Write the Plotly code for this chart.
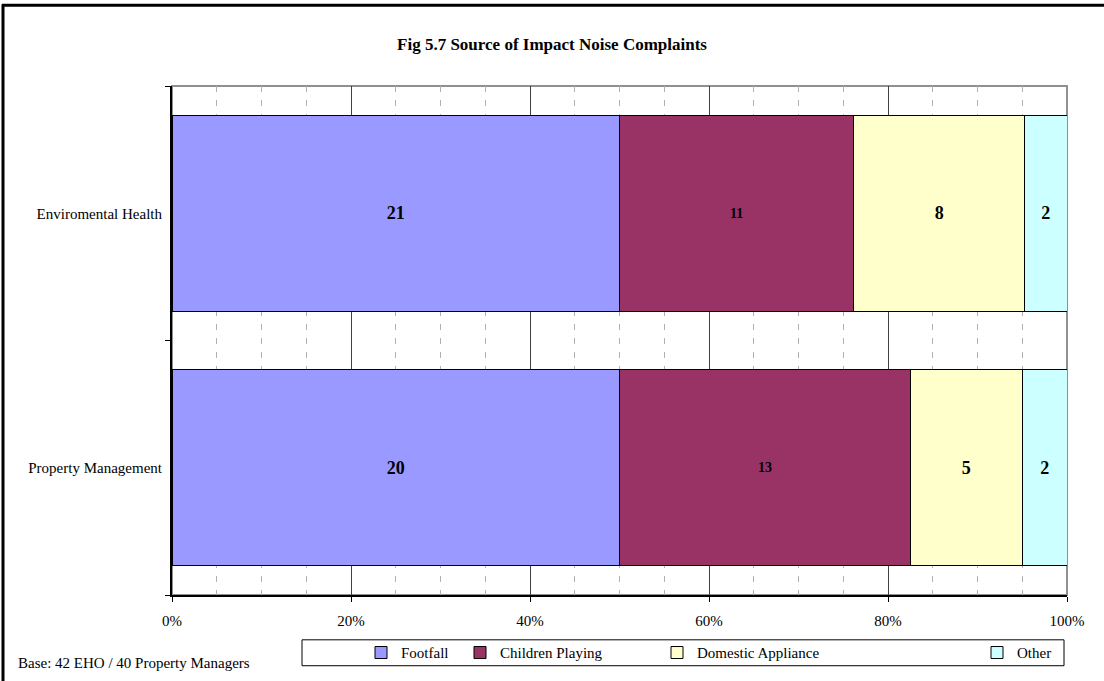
import plotly.graph_objects as go

# Survey groups (bottom to top) and complaint counts per noise source
groups = ["Property Management", "Enviromental Health"]
footfall = [20, 21]
children_playing = [13, 11]
domestic_appliance = [5, 8]
other = [2, 2]

series = [
    ("Footfall", footfall, "#9999FF", 18),
    ("Children Playing", children_playing, "#993366", 14),
    ("Domestic Appliance", domestic_appliance, "#FFFFCC", 18),
    ("Other", other, "#CCFFFF", 18),
]

x_ticks = [0, 20, 40, 60, 80, 100]
x_tick_labels = ["0%", "20%", "40%", "60%", "80%", "100%"]

W, H = 1104, 681
L, R, T, B = 172, 1067, 86, 597  # plot area in pixels


def px(x):
    return (x - L) / (R - L)


def py(y):
    return (B - y) / (B - T)


SERIF = "Liberation Serif, Times New Roman, serif"

fig = go.Figure()
legend_names = ["legend", "legend2", "legend3", "legend4"]
legend_x = [361, 460, 657, 977]

for (name, vals, color, fsize), lg in zip(series, legend_names):
    fig.add_trace(go.Bar(
        y=groups, x=vals, name=name, orientation="h",
        marker=dict(color=color, line=dict(color="black", width=1)),
        text=[str(v) for v in vals], textposition="inside",
        insidetextanchor="middle",
        textfont=dict(family=SERIF, size=fsize, color="black", weight="bold"),
        legend=lg, hoverinfo="skip",
    ))

legend_common = dict(
    orientation="h", xanchor="left", yanchor="middle", y=py(655),
    bgcolor="rgba(0,0,0,0)", borderwidth=0,
    font=dict(family=SERIF, size=15, color="black"),
    itemwidth=30, tracegroupgap=0,
)

fig.update_layout(
    width=W, height=H,
    margin=dict(l=L, r=W - R, t=T, b=H - B, pad=0),
    paper_bgcolor="white", plot_bgcolor="white",
    barmode="stack", barnorm="percent", bargap=0.23,
    showlegend=True,
    title=dict(
        text="<b>Fig 5.7 Source of Impact Noise Complaints</b>",
        x=0.5, xref="container", xanchor="center",
        y=1 - 44 / H, yref="container", yanchor="middle",
        font=dict(family=SERIF, size=17, color="black"),
    ),
    xaxis=dict(
        range=[0, 100], tickvals=x_ticks, ticktext=x_tick_labels,
        showgrid=True, gridcolor="#404040", gridwidth=1,
        minor=dict(dtick=5, showgrid=True, gridcolor="#b0b0b0",
                   griddash="6px,8px", gridwidth=1),
        showline=True, linecolor="black", linewidth=2,
        ticks="outside", ticklen=5, tickcolor="black", tickwidth=1,
        ticklabelstandoff=6,
        tickfont=dict(family=SERIF, size=15, color="black"),
        zeroline=False, fixedrange=True,
    ),
    yaxis=dict(
        type="category", categoryorder="array", categoryarray=groups,
        range=[-0.5, 1.5], showgrid=False,
        showline=True, linecolor="black", linewidth=2,
        ticks="outside", tickson="boundaries", ticklen=5,
        tickcolor="black", tickwidth=1, ticklabelstandoff=5,
        tickfont=dict(family=SERIF, size=15, color="black"),
        zeroline=False, fixedrange=True,
    ),
)

for lg, lx in zip(legend_names, legend_x):
    fig.update_layout({lg: dict(legend_common, x=px(lx))})

# plot-area frame (top/right edges visible in grey)
fig.add_shape(type="rect", xref="paper", yref="paper", x0=0, x1=1, y0=0, y1=1,
              line=dict(color="#909090", width=2), layer="below")
# legend box
fig.add_shape(type="rect", xref="paper", yref="paper",
              x0=px(302), x1=px(1064), y0=py(668), y1=py(642),
              line=dict(color="black", width=1), fillcolor="rgba(0,0,0,0)")
# outer chart border: top and left edges
fig.add_shape(type="line", xref="paper", yref="paper",
              x0=px(2), x1=px(1110), y0=py(5), y1=py(5),
              line=dict(color="black", width=3))
fig.add_shape(type="line", xref="paper", yref="paper",
              x0=px(3), x1=px(3), y0=py(4), y1=py(690),
              line=dict(color="black", width=3))

fig.add_annotation(
    text="Base: 42 EHO / 40 Property Managers",
    xref="paper", yref="paper", x=px(16), y=py(665),
    xanchor="left", yanchor="middle", showarrow=False,
    font=dict(family=SERIF, size=15, color="black"),
)

fig.write_html("out.html")
